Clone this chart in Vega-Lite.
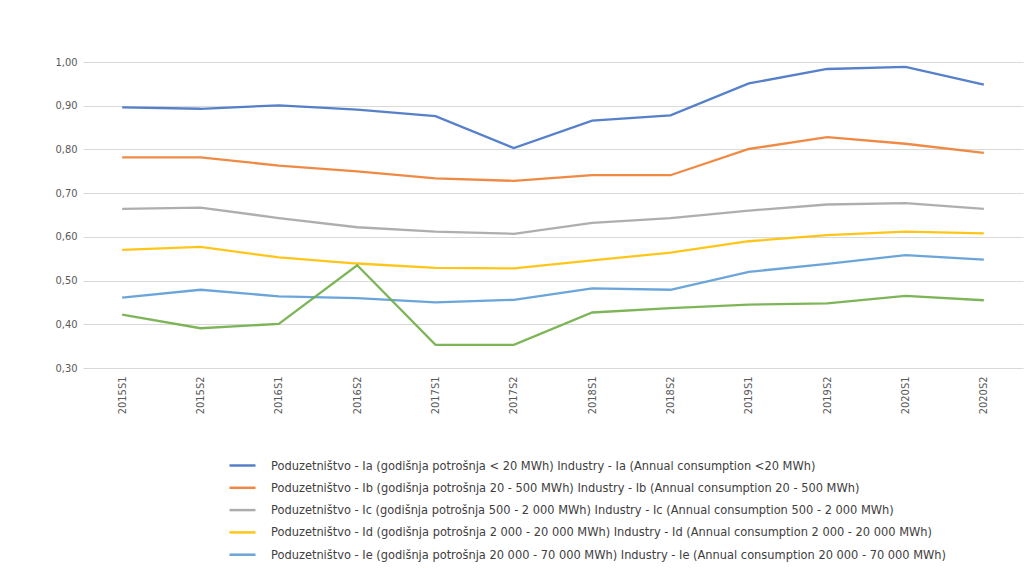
{
  "$schema": "https://vega.github.io/schema/vega-lite/v6.json",
  "autosize": {"type": "none"},
  "padding": {"left": 83, "top": 62, "right": 1, "bottom": 215},
  "width": 940,
  "height": 306,
  "background": "white",
  "config": {
    "view": {"stroke": null},
    "font": "DejaVu Sans Condensed, sans-serif",
    "axis": {"labelFont": "DejaVu Sans Condensed, sans-serif", "labelColor": "#595959", "labelFontSize": 11}
  },
  "data": {"values": [
    {"p":"2015S1","s":"Ia","v":0.896},{"p":"2015S2","s":"Ia","v":0.893},{"p":"2016S1","s":"Ia","v":0.901},{"p":"2016S2","s":"Ia","v":0.891},{"p":"2017S1","s":"Ia","v":0.876},{"p":"2017S2","s":"Ia","v":0.803},{"p":"2018S1","s":"Ia","v":0.866},{"p":"2018S2","s":"Ia","v":0.878},{"p":"2019S1","s":"Ia","v":0.951},{"p":"2019S2","s":"Ia","v":0.984},{"p":"2020S1","s":"Ia","v":0.989},{"p":"2020S2","s":"Ia","v":0.948},
    {"p":"2015S1","s":"Ib","v":0.782},{"p":"2015S2","s":"Ib","v":0.782},{"p":"2016S1","s":"Ib","v":0.763},{"p":"2016S2","s":"Ib","v":0.750},{"p":"2017S1","s":"Ib","v":0.734},{"p":"2017S2","s":"Ib","v":0.728},{"p":"2018S1","s":"Ib","v":0.741},{"p":"2018S2","s":"Ib","v":0.741},{"p":"2019S1","s":"Ib","v":0.801},{"p":"2019S2","s":"Ib","v":0.828},{"p":"2020S1","s":"Ib","v":0.813},{"p":"2020S2","s":"Ib","v":0.792},
    {"p":"2015S1","s":"Ic","v":0.664},{"p":"2015S2","s":"Ic","v":0.667},{"p":"2016S1","s":"Ic","v":0.643},{"p":"2016S2","s":"Ic","v":0.622},{"p":"2017S1","s":"Ic","v":0.612},{"p":"2017S2","s":"Ic","v":0.607},{"p":"2018S1","s":"Ic","v":0.632},{"p":"2018S2","s":"Ic","v":0.643},{"p":"2019S1","s":"Ic","v":0.660},{"p":"2019S2","s":"Ic","v":0.674},{"p":"2020S1","s":"Ic","v":0.677},{"p":"2020S2","s":"Ic","v":0.664},
    {"p":"2015S1","s":"Id","v":0.570},{"p":"2015S2","s":"Id","v":0.577},{"p":"2016S1","s":"Id","v":0.553},{"p":"2016S2","s":"Id","v":0.539},{"p":"2017S1","s":"Id","v":0.529},{"p":"2017S2","s":"Id","v":0.528},{"p":"2018S1","s":"Id","v":0.546},{"p":"2018S2","s":"Id","v":0.564},{"p":"2019S1","s":"Id","v":0.590},{"p":"2019S2","s":"Id","v":0.604},{"p":"2020S1","s":"Id","v":0.612},{"p":"2020S2","s":"Id","v":0.608},
    {"p":"2015S1","s":"Ie","v":0.461},{"p":"2015S2","s":"Ie","v":0.479},{"p":"2016S1","s":"Ie","v":0.464},{"p":"2016S2","s":"Ie","v":0.460},{"p":"2017S1","s":"Ie","v":0.450},{"p":"2017S2","s":"Ie","v":0.456},{"p":"2018S1","s":"Ie","v":0.482},{"p":"2018S2","s":"Ie","v":0.479},{"p":"2019S1","s":"Ie","v":0.520},{"p":"2019S2","s":"Ie","v":0.538},{"p":"2020S1","s":"Ie","v":0.558},{"p":"2020S2","s":"Ie","v":0.548},
    {"p":"2015S1","s":"If","v":0.422},{"p":"2015S2","s":"If","v":0.391},{"p":"2016S1","s":"If","v":0.401},{"p":"2016S2","s":"If","v":0.535},{"p":"2017S1","s":"If","v":0.353},{"p":"2017S2","s":"If","v":0.353},{"p":"2018S1","s":"If","v":0.427},{"p":"2018S2","s":"If","v":0.437},{"p":"2019S1","s":"If","v":0.445},{"p":"2019S2","s":"If","v":0.448},{"p":"2020S1","s":"If","v":0.465},{"p":"2020S2","s":"If","v":0.455}
  ]},
  "mark": {"type": "line", "strokeWidth": 2.3, "opacity": 0.9},
  "encoding": {
    "x": {"field": "p", "type": "ordinal", "sort": null, "title": null,
      "scale": {"type": "point", "padding": 0.5},
      "axis": {"labelAngle": 270, "domain": false, "ticks": false, "grid": false, "labelPadding": 8}},
    "y": {"field": "v", "type": "quantitative", "title": null,
      "scale": {"domain": [0.3, 1.0], "zero": false, "nice": false},
      "axis": {"values": [0.3,0.4,0.5,0.6,0.7,0.8,0.9,1.0], "domain": false, "ticks": false, "labelPadding": 6,
        "gridColor": "#d9d9d9", "gridWidth": 1.2,
        "labelExpr": "replace(format(datum.value, '.2f'), '.', ',')"}},
    "color": {"field": "s", "type": "nominal", "sort": null,
      "scale": {"domain": ["Ia","Ib","Ic","Id","Ie","If"], "range": ["#4472C4","#ED7D31","#A5A5A5","#FFC000","#5B9BD5","#70AD47"]},
      "legend": {
        "values": ["Ia","Ib","Ic","Id","Ie"],
        "orient": "none", "legendX": 145, "legendY": 389, "direction": "vertical", "title": null,
        "symbolType": "stroke", "symbolSize": 676, "symbolStrokeWidth": 2.5, "symbolOpacity": 0.9,
        "labelFontSize": 12.7, "labelColor": "#404040", "labelLimit": 1000, "rowPadding": 0.3, "labelOffset": 14,
        "labelExpr": "{'Ia':'Poduzetništvo - Ia (godišnja potrošnja < 20 MWh) Industry - Ia (Annual consumption <20 MWh)','Ib':'Poduzetništvo - Ib (godišnja potrošnja 20  - 500 MWh) Industry - Ib (Annual consumption 20 - 500 MWh)','Ic':'Poduzetništvo - Ic (godišnja potrošnja 500 - 2 000 MWh) Industry - Ic (Annual consumption 500 - 2 000 MWh)','Id':'Poduzetništvo - Id (godišnja potrošnja 2 000 - 20 000 MWh) Industry - Id (Annual consumption 2 000 - 20 000 MWh)','Ie':'Poduzetništvo - Ie (godišnja potrošnja 20 000 - 70 000 MWh) Industry - Ie (Annual consumption 20 000 - 70 000 MWh)'}[datum.value]"
      }}
  }
}
